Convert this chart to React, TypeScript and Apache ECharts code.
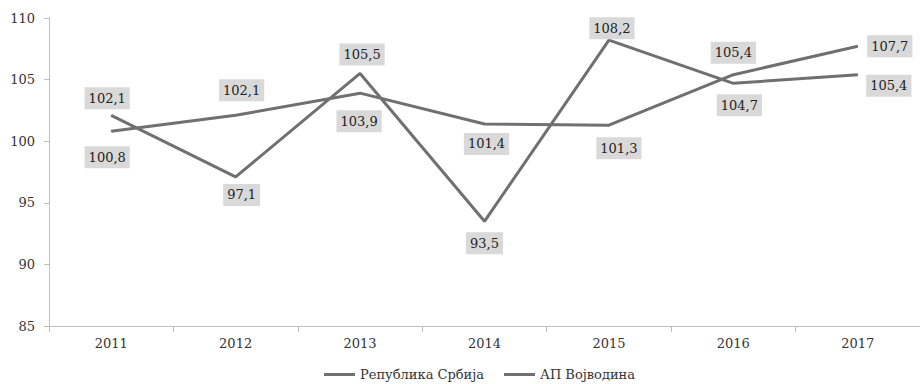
import React, { useEffect, useRef } from "react";
import * as echarts from "echarts";

const years = ["2011", "2012", "2013", "2014", "2015", "2016", "2017"];
const serbia = [100.8, 102.1, 103.9, 101.4, 101.3, 105.4, 107.7];
const vojvodina = [102.1, 97.1, 105.5, 93.5, 108.2, 104.7, 105.4];
const seriesNames = ["Република Србија", "АП Војводина"];
const yTicks = { min: 85, max: 110, interval: 5 };
const titleText = "Индекс обима (%)";

// label offsets (style, not data): [dx, dy] of label centre relative to point
const serbiaLabelOffsets = [[-4, 26], [6, -25], [-1, 28], [2, 20], [10, 23], [0, -22], [32, 0]];
const vojvodinaLabelOffsets = [[-4, -17], [6, 18], [2, -19], [0, 22], [3, -12], [6, 22], [31, 11]];

const FONT = "DejaVu Serif";
const LINE = "#707070";

function fmt(v: number) {
  return v.toFixed(1).replace(".", ",");
}

function buildData(values: number[], offsets: number[][]) {
  return values.map((v, i) => ({
    value: v,
    label: { offset: offsets[i] },
  }));
}

export default function App() {
  const ref = useRef<HTMLDivElement>(null);
  useEffect(() => {
    if (!ref.current) return;
    const chart = echarts.init(ref.current, undefined, { renderer: "svg" });
    const labelBase = {
      show: true,
      position: "inside",
      formatter: (p: any) => fmt(p.value),
      fontFamily: FONT,
      fontSize: 13,
      color: "#222",
      backgroundColor: "#d9d9d9",
      padding: [4, 4, 4, 4],
      lineHeight: 14,
    };
    chart.setOption({
      animation: false,
      textStyle: { fontFamily: FONT },
      grid: { left: 49, right: -6, top: 18, bottom: 58, containLabel: false },
      graphic: [
        {
          type: "text",
          left: 6,
          top: -16,
          style: { text: titleText, fontFamily: FONT, fontSize: 13, fill: "#333" },
        },
      ],
      legend: {
        left: 319,
        top: 363,
        itemWidth: 31,
        itemHeight: 3,
        itemGap: 20,
        icon: "rect",
        textStyle: { fontFamily: FONT, fontSize: 13, color: "#333" },
        data: seriesNames,
      },
      xAxis: {
        type: "category",
        data: years,
        boundaryGap: true,
        axisLine: { lineStyle: { color: "#bfbfbf", width: 1 } },
        axisTick: { show: true, length: 6, lineStyle: { color: "#bfbfbf" } },
        axisLabel: { fontFamily: FONT, fontSize: 13, color: "#333", margin: 11 },
      },
      yAxis: {
        type: "value",
        min: yTicks.min,
        max: yTicks.max,
        interval: yTicks.interval,
        splitLine: { show: false },
        axisLine: { show: true, lineStyle: { color: "#bfbfbf", width: 1 } },
        axisTick: { show: true, length: 5, lineStyle: { color: "#bfbfbf" } },
        axisLabel: { fontFamily: FONT, fontSize: 13, color: "#333", margin: 14 },
      },
      series: [
        {
          name: seriesNames[0],
          type: "line",
          data: buildData(serbia, serbiaLabelOffsets),
          symbol: "circle",
          symbolSize: 1,
          showSymbol: true,
          lineStyle: { color: LINE, width: 3 },
          itemStyle: { color: LINE },
          label: labelBase,
          z: 2,
        },
        {
          name: seriesNames[1],
          type: "line",
          data: buildData(vojvodina, vojvodinaLabelOffsets),
          symbol: "circle",
          symbolSize: 1,
          showSymbol: true,
          lineStyle: { color: LINE, width: 3 },
          itemStyle: { color: LINE },
          label: labelBase,
          z: 2,
        },
      ],
    });
    return () => chart.dispose();
  }, []);
  return <div ref={ref} style={{ width: 920, height: 384, position: "absolute", left: 0, top: 0 }} />;
}
